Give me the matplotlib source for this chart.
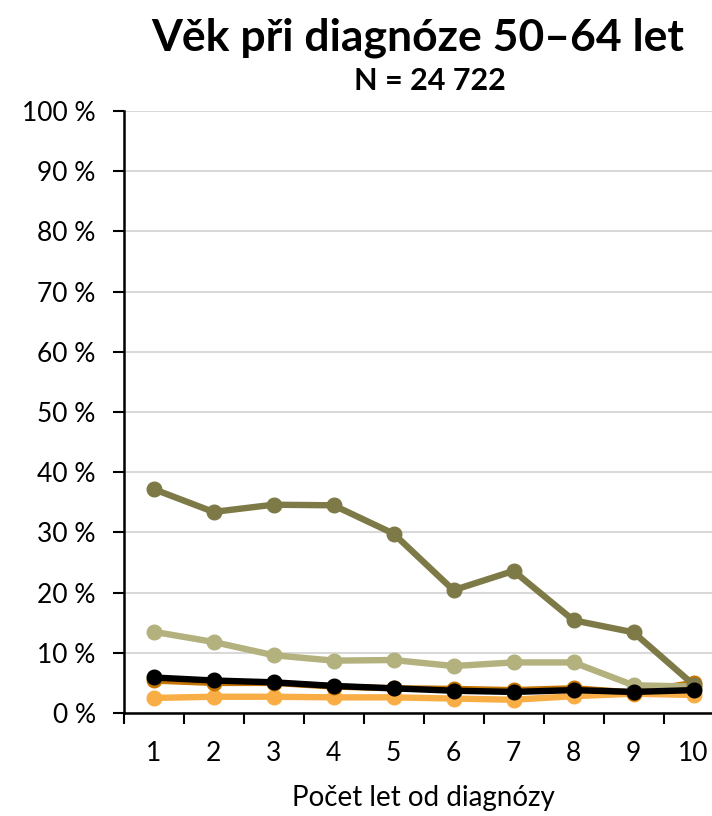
import matplotlib
matplotlib.use("Agg")
import matplotlib.pyplot as plt
from matplotlib.ticker import FixedLocator, NullFormatter

plt.rcParams['font.family'] = ['Lato', 'DejaVu Sans']

years = [1, 2, 3, 4, 5, 6, 7, 8, 9, 10]
series_light_orange = [2.5, 2.7, 2.7, 2.6, 2.6, 2.4, 2.2, 2.8, 3.2, 3.0]
series_dark_orange = [5.4, 5.0, 5.0, 4.4, 4.1, 4.0, 3.8, 4.1, 3.4, 5.0]
series_light_olive = [13.5, 11.8, 9.6, 8.7, 8.8, 7.8, 8.4, 8.4, 4.6, 4.4]
series_dark_olive = [37.2, 33.4, 34.6, 34.5, 29.8, 20.4, 23.6, 15.4, 13.4, 4.7]
series_black = [5.9, 5.4, 5.1, 4.5, 4.1, 3.7, 3.5, 3.8, 3.5, 3.8]
y_ticks = [0, 10, 20, 30, 40, 50, 60, 70, 80, 90, 100]
y_tick_labels = [f"{v} %" for v in y_ticks]

title = "Věk při diagnóze 50–64 let"
subtitle = "N = 24 722"
xlabel = "Počet let od diagnózy"

fig = plt.figure(figsize=(7.12, 8.16), dpi=100)
ax = fig.add_axes([123.5 / 712, (816 - 713) / 816, 600 / 712, (713 - 111) / 816])

series = [
    (series_light_orange, "#F8AE45"),
    (series_dark_orange, "#C47400"),
    (series_light_olive, "#B3B17D"),
    (series_dark_olive, "#7E7A48"),
    (series_black, "#000000"),
]
for vals, col in series:
    ax.plot(years, vals, color=col, lw=4.6, marker='o', markersize=10.5,
            solid_capstyle='round', clip_on=False, zorder=3)

ax.set_xlim(0.5, 10.5)
ax.set_ylim(0, 100)
ax.set_yticks(y_ticks)
ax.set_yticklabels(y_tick_labels, fontsize=19)
ax.yaxis.grid(True, color="#D9D9D9", lw=1.5)
ax.set_axisbelow(True)

ax.set_xticks(years)
ax.set_xticklabels([str(y) for y in years], fontsize=19)
ax.tick_params(axis='x', which='major', length=0, pad=20)
ax.xaxis.set_minor_locator(FixedLocator([y + 0.5 for y in [0] + years[:-1]]))
ax.xaxis.set_minor_formatter(NullFormatter())
ax.tick_params(axis='x', which='minor', length=8, width=1.5, direction='out')
ax.tick_params(axis='y', length=8, width=1.5, direction='out', pad=12)

for s in ['top', 'right']:
    ax.spines[s].set_visible(False)
for s in ['left', 'bottom']:
    ax.spines[s].set_linewidth(1.8)

ax.set_xlabel(xlabel, fontsize=20, labelpad=14)

fig.text(418 / 712, 1 - 38 / 816, title, fontsize=32, fontweight='bold',
         ha='center', va='center')
fig.text(430 / 712, 1 - 81 / 816, subtitle, fontsize=22, fontweight='bold',
         ha='center', va='center')

fig.savefig("out.png", dpi=100)
